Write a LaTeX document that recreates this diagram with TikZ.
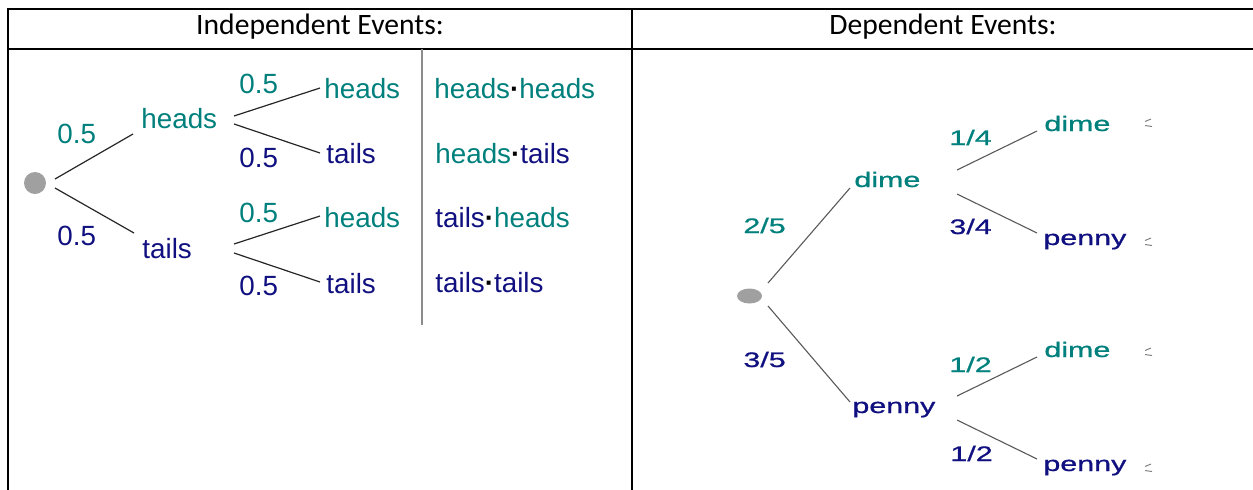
\documentclass[tikz,border=0pt]{standalone}
\usepackage{fontspec}
\setmainfont{Liberation Sans}
\newfontfamily\hdrfont{Carlito}
\newfontfamily\rfont[FakeBold=0.7]{Liberation Sans}
\usetikzlibrary{shapes.geometric}
\definecolor{tealc}{RGB}{0,128,124}
\definecolor{navyc}{RGB}{16,16,128}
\definecolor{dotc}{RGB}{160,160,160}
\newcommand{\mdot}{\textbf{·}}
\begin{document}
\begin{tikzpicture}[x=0.5pt,y=-0.5pt,
  lbl/.style={anchor=base west, inner sep=0, font=\fontsize{13.9}{16}\selectfont},
  tl/.style={lbl, text=tealc}, nv/.style={lbl, text=navyc},
  rl/.style={anchor=base west, inner sep=0, font=\rfont\fontsize{10.5}{12}\selectfont},
  rtl/.style={rl, text=tealc}, rnv/.style={rl, text=navyc},
  edge/.style={draw=black!85, line width=0.6pt},
  redge/.style={draw=black!65, line width=0.55pt},
  rule/.style={line width=1.1pt, line cap=rect},
  hdr/.style={font=\hdrfont\fontsize{14.8}{17}\selectfont, inner sep=0, anchor=base}
]
\useasboundingbox (0,0) rectangle (1253,489);
% table
\draw[rule] (8,489) -- (8,9) -- (1253,9);
\draw[rule] (8,49) -- (1253,49);
\draw[rule] (632,9) -- (632,489);
\node[hdr] (hL) at (320,34) {Independent Events:};
\node[hdr] (hR) at (943,34) {Dependent Events:};

% ---------- left tree ----------
\node[circle, fill=dotc, minimum size=11pt, inner sep=0] (r1) at (35,183) {};
\coordinate (a1) at (55,179); \coordinate (b1) at (133,134);
\coordinate (a2) at (55,188); \coordinate (b2) at (134,233);
\draw[edge] (a1) -- (b1);
\draw[edge] (a2) -- (b2);
\node[tl] (H1) at (141,128) {heads};
\node[nv] (T1) at (142,258) {tails};
\node[tl] (p1) at (57,143) {0.5};
\node[nv] (p2) at (57,245) {0.5};

\coordinate (c1) at (234,116); \coordinate (d1) at (320,88);
\coordinate (c2) at (234,124); \coordinate (d2) at (320,153);
\coordinate (c3) at (234,244); \coordinate (d3) at (320,216);
\coordinate (c4) at (234,253); \coordinate (d4) at (320,282);
\draw[edge] (c1) -- (d1);
\draw[edge] (c2) -- (d2);
\draw[edge] (c3) -- (d3);
\draw[edge] (c4) -- (d4);
\node[tl] (HH) at (324,98) {heads};
\node[nv] (HT) at (326,163) {tails};
\node[tl] (TH) at (324,227) {heads};
\node[nv] (TT) at (326,293) {tails};
\node[tl] (q1) at (239,93) {0.5};
\node[nv] (q2) at (239,167) {0.5};
\node[tl] (q3) at (239,222) {0.5};
\node[nv] (q4) at (239,295) {0.5};

\coordinate (v1) at (422,49); \coordinate (v2) at (422,325);
\draw[black!45, line width=0.6pt] (v1) -- (v2);
\node[lbl] (o1) at (434,98) {\textcolor{tealc}{heads}\mdot\textcolor{tealc}{heads}};
\node[lbl] (o2) at (435,163) {\textcolor{tealc}{heads}\mdot\textcolor{navyc}{tails}};
\node[lbl] (o3) at (435,227) {\textcolor{navyc}{tails}\mdot\textcolor{tealc}{heads}};
\node[lbl] (o4) at (435,292) {\textcolor{navyc}{tails}\mdot\textcolor{navyc}{tails}};

% ---------- right tree ----------
\node[ellipse, fill=dotc, minimum width=12.5pt, minimum height=7.5pt, inner sep=0] (r2) at (749.5,296) {};
\coordinate (e1) at (768,283); \coordinate (f1) at (850,188);
\coordinate (e2) at (768,306); \coordinate (f2) at (850,402);
\draw[redge] (e1) -- (f1);
\draw[redge] (e2) -- (f2);
\node[rtl] (D1) at (854,187) {\scalebox{1.45}[1]{dime}};
\node[rnv] (P1) at (852,413) {\scalebox{1.45}[1]{penny}};
\node[rtl] (s1) at (743,233) {\scalebox{1.45}[1]{2/5}};
\node[rnv] (s2) at (743,367) {\scalebox{1.45}[1]{3/5}};

\coordinate (g1) at (957,170); \coordinate (h1) at (1037,131);
\coordinate (g2) at (957,194); \coordinate (h2) at (1037,233);
\coordinate (g3) at (957,396); \coordinate (h3) at (1037,357);
\coordinate (g4) at (957,420); \coordinate (h4) at (1037,459);
\draw[redge] (g1) -- (h1);
\draw[redge] (g2) -- (h2);
\draw[redge] (g3) -- (h3);
\draw[redge] (g4) -- (h4);
\node[rtl] (DD) at (1044,131) {\scalebox{1.45}[1]{dime}};
\node[rnv] (DP) at (1043,245) {\scalebox{1.45}[1]{penny}};
\node[rtl] (PD) at (1044,357) {\scalebox{1.45}[1]{dime}};
\node[rnv] (PP) at (1043,471) {\scalebox{1.45}[1]{penny}};
\node[rtl] (t1) at (949,145) {\scalebox{1.45}[1]{1/4}};
\node[rnv] (t2) at (949,234) {\scalebox{1.45}[1]{3/4}};
\node[rtl] (t3) at (949,372) {\scalebox{1.45}[1]{1/2}};
\node[rnv] (t4) at (950,461) {\scalebox{1.45}[1]{1/2}};

% small clipped marks at right
\foreach \yy in {119,238,348,464} {
  \draw[black!50, line width=0.5pt] (1145,\yy+2.5) -- (1151,\yy);
  \draw[black!50, line width=0.5pt] (1145,\yy+6.5) -- (1152,\yy+7.5);
}
\end{tikzpicture}
\end{document}
